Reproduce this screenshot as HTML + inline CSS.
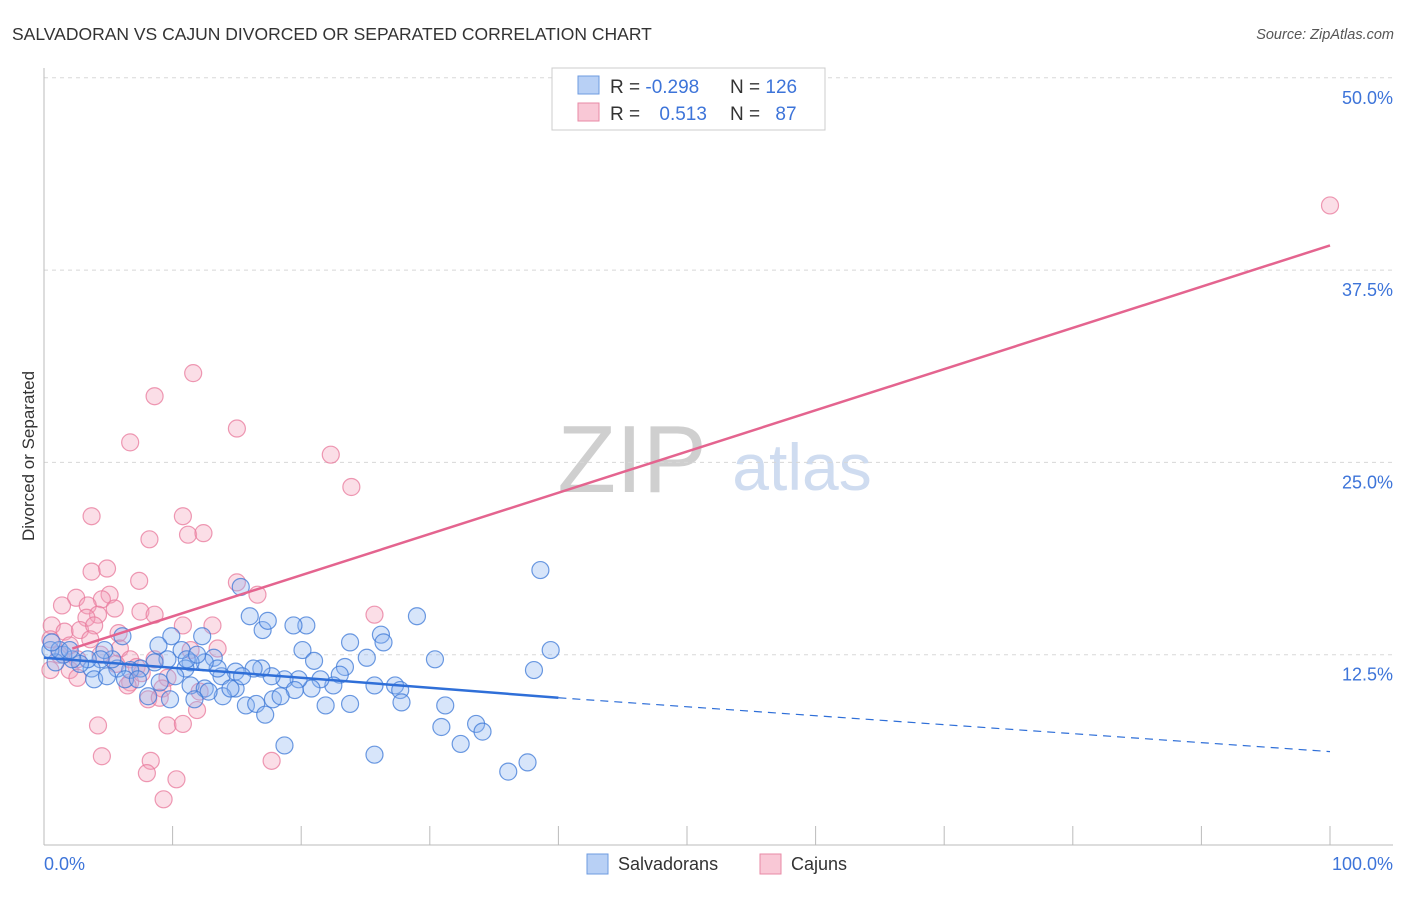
<!DOCTYPE html>
<html><head><meta charset="utf-8"><style>
body{margin:0;background:#fff;font-family:"Liberation Sans",sans-serif;}
svg text{font-family:"Liberation Sans",sans-serif;}
</style></head><body>
<svg width="1406" height="892" xmlns="http://www.w3.org/2000/svg" id="chart">
<text x="12" y="40" font-size="17.5" fill="#333">SALVADORAN VS CAJUN DIVORCED OR SEPARATED CORRELATION CHART</text>
<text x="1394" y="39" font-size="14.5" fill="#555" font-style="italic" text-anchor="end">Source: ZipAtlas.com</text>
<text x="34" y="456" font-size="17" fill="#333" text-anchor="middle" transform="rotate(-90 34 456)">Divorced or Separated</text>
<text x="632" y="492" font-size="96" fill="#cfcfcf" font-family="Liberation Serif" text-anchor="middle">ZIP</text>
<text x="802" y="490" font-size="66" fill="#cfdcf0" text-anchor="middle">atlas</text>
<g id="grid"></g>
<g id="axes"></g>
<g id="pts"></g>
<g id="trend"></g>
<g>
<rect x="552" y="68" width="273" height="62" fill="#fff" stroke="#ccc"/>
<rect x="578" y="76" width="21" height="18" fill="#b8d0f5" stroke="#6e9be0"/>
<rect x="578" y="103" width="21" height="18" fill="#f9c8d6" stroke="#e88aa6"/>
<text x="610" y="93" font-size="19" fill="#333">R = <tspan fill="#3d74d9">-0.298</tspan></text>
<text x="730" y="93" font-size="19" fill="#333">N = <tspan fill="#3d74d9">126</tspan></text>
<text x="610" y="120" font-size="19" fill="#333">R = <tspan fill="#3d74d9" dx="14">0.513</tspan></text>
<text x="730" y="120" font-size="19" fill="#333">N = <tspan fill="#3d74d9" dx="10">87</tspan></text>
</g>
<g>
<rect x="587" y="854" width="21" height="20" fill="#b8d0f5" stroke="#6e9be0"/>
<text x="618" y="870" font-size="18" fill="#333">Salvadorans</text>
<rect x="760" y="854" width="21" height="20" fill="#f9c8d6" stroke="#e88aa6"/>
<text x="791" y="870" font-size="18" fill="#333">Cajuns</text>
</g>
</svg>
<script>
const yTicks=[12.5,25,37.5,50];
const yTickLabels=["12.5%","25.0%","37.5%","50.0%"];
const xTicks=[0,10,20,30,40,50,60,70,80,90,100];
const blueX=[38.6,29.0,39.4,38.1,30.4,26.2,26.4,20.4,19.4,17.0,17.4,16.0,15.3,12.3,9.9,6.1,8.9,20.1,21.0,23.8,25.1,23.4,23.0,22.5,21.5,20.8,19.8,18.7,17.7,16.9,16.3,14.9,14.9,13.8,13.2,13.5,12.5,11.4,11.0,10.7,11.1,11.9,9.6,8.6,7.5,6.7,5.7,5.3,4.7,4.4,3.7,3.4,2.8,2.2,1.5,0.9,0.5,1.2,2.0,0.6,3.9,4.9,6.3,7.3,9.0,10.2,11.4,12.5,13.9,12.8,11.7,9.8,8.1,15.7,16.5,17.2,17.8,19.5,21.9,23.8,25.7,27.3,27.7,27.8,30.9,31.2,33.6,34.1,32.4,25.7,18.7,36.1,37.6,14.5,15.4,18.4];
const blueY=[18.0,15.0,12.8,11.5,12.2,13.8,13.3,14.4,14.4,14.1,14.7,15.0,16.9,13.7,13.7,13.7,13.1,12.8,12.1,13.3,12.3,11.7,11.2,10.5,10.9,10.3,10.9,10.9,11.1,11.6,11.6,11.4,10.3,11.1,12.3,11.6,12.0,12.0,11.6,12.8,12.2,12.5,12.2,12.0,11.6,11.5,11.6,12.2,12.8,12.2,11.6,12.2,11.9,12.2,12.5,12.0,12.8,12.8,12.8,13.3,10.9,11.1,10.9,10.9,10.7,11.1,10.5,10.3,9.8,10.1,9.6,9.6,9.8,9.2,9.3,8.6,9.6,10.2,9.2,9.3,10.5,10.5,10.2,9.4,7.8,9.2,8.0,7.5,6.7,6.0,6.6,4.9,5.5,10.3,11.1,9.8];
const pinkX=[100,11.6,8.6,15.0,6.7,22.3,23.9,3.7,10.8,8.2,11.2,12.4,4.9,3.7,7.4,15.0,16.6,2.5,5.1,4.5,1.4,3.4,5.5,7.5,8.6,25.7,4.2,3.3,0.6,1.6,2.8,3.9,5.8,13.1,10.8,0.5,2.0,3.6,5.9,1.2,2.6,4.4,6.7,8.6,11.4,13.5,2.0,2.6,6.7,9.6,9.2,12.1,6.5,8.1,9.0,11.9,4.2,9.6,10.8,4.5,8.3,8.0,10.3,9.3,17.7,0.5,5.6,7.2,7.6];
const pinkY=[41.7,30.8,29.3,27.2,26.3,25.5,23.4,21.5,21.5,20.0,20.3,20.4,18.1,17.9,17.3,17.2,16.4,16.2,16.4,16.1,15.7,15.7,15.5,15.3,15.1,15.1,15.1,14.9,14.4,14.0,14.1,14.4,13.9,14.4,14.4,13.5,13.1,13.5,12.9,12.5,12.2,12.5,12.2,12.2,12.8,12.9,11.5,11.0,10.7,11.0,10.3,10.1,10.5,9.6,9.7,8.9,7.9,7.9,8.0,5.9,5.6,4.8,4.4,3.1,5.6,11.5,11.9,11.7,11.3];
const blueTrend=[[0,12.3],[40,9.7],[100,6.2]];
const pinkTrend=[[2.2,12.9],[100,39.1]];
const X=v=>44+v*12.86, Y=v=>847-v*15.385;
const NS="http://www.w3.org/2000/svg";
function mk(tag,attrs,parent){const e=document.createElementNS(NS,tag);for(const k in attrs)e.setAttribute(k,attrs[k]);parent.appendChild(e);return e;}
const grid=document.getElementById('grid'),axes=document.getElementById('axes');
yTicks.forEach((t,i)=>{
 const l=mk('line',{x1:44,x2:1393,y1:Y(t),y2:Y(t),stroke:'#d8d8d8','stroke-dasharray':'4,4'},grid);
 
 
 const tx=mk('text',{x:1393,y:Y(t)+26,'font-size':18,fill:'#3d74d9','text-anchor':'end'},axes);
 tx.textContent=yTickLabels[i];
 
 
});
let a=mk('line',{x1:44,x2:44,y1:68,y2:845,stroke:'#bbb'},axes);


a=mk('line',{x1:44,x2:1393,y1:845,y2:845,stroke:'#bbb'},axes);


xTicks.forEach(t=>{const l=mk('line',{x1:X(t),x2:X(t),y1:826,y2:845,stroke:'#bbb'},axes);
 
 });
let t0=mk('text',{x:44,y:870,'font-size':18,fill:'#3d74d9'},axes);t0.textContent='0.0%';


let t1=mk('text',{x:1393,y:870,'font-size':18,fill:'#3d74d9','text-anchor':'end'},axes);t1.textContent='100.0%';


const pts=document.getElementById('pts');
pinkX.forEach((x,i)=>{const c=mk('circle',{cx:X(x),cy:Y(pinkY[i]),r:8.5,fill:'rgba(244,160,185,0.35)',stroke:'rgba(232,120,155,0.75)','stroke-width':1.2},pts);
 
 });
blueX.forEach((x,i)=>{const c=mk('circle',{cx:X(x),cy:Y(blueY[i]),r:8.5,fill:'rgba(140,180,240,0.35)',stroke:'rgba(60,120,215,0.75)','stroke-width':1.2},pts);
 
 });
const tr=document.getElementById('trend');
let l=mk('line',{x1:X(blueTrend[0][0]),y1:Y(blueTrend[0][1]),x2:X(blueTrend[1][0]),y2:Y(blueTrend[1][1]),stroke:'#2f6fd8','stroke-width':2.5},tr);


l=mk('line',{x1:X(blueTrend[1][0]),y1:Y(blueTrend[1][1]),x2:X(blueTrend[2][0]),y2:Y(blueTrend[2][1]),stroke:'#2f6fd8','stroke-width':1.2,'stroke-dasharray':'8,6'},tr);


l=mk('line',{x1:X(pinkTrend[0][0]),y1:Y(pinkTrend[0][1]),x2:X(pinkTrend[1][0]),y2:Y(pinkTrend[1][1]),stroke:'#e4648f','stroke-width':2.5},tr);


</script>
</body></html>
